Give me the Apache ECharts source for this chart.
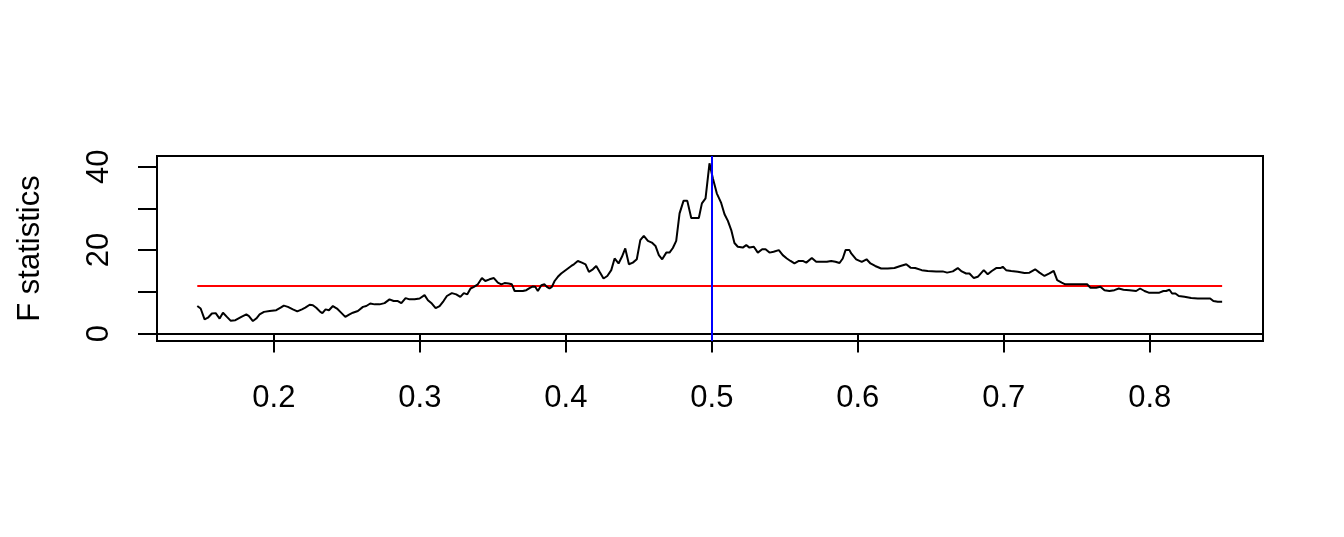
<!DOCTYPE html>
<html>
<head>
<meta charset="utf-8">
<script src="https://cdn.jsdelivr.net/npm/echarts@6/dist/echarts.min.js"></script>
<style>
html,body{margin:0;padding:0;background:#fff;}
#chart{width:1344px;height:537px;}
</style>
</head>
<body>
<div id="chart"></div>
<script>
// break fraction (x positions of the F statistics)
const breakFrac = [
0.1475,0.1498,0.1525,0.1548,0.1575,0.1601,0.1628,0.1651,0.1678,0.1703,0.1736,0.1777,0.1811,0.1829,0.1856,0.1879,0.1902,0.1932,0.1971,
0.2016,0.2046,0.2068,0.2096,0.2130,0.2160,0.2192,0.2215,0.2245,0.2267,0.2290,0.2318,0.2332,0.2354,0.2377,0.2404,0.2432,0.2455,0.2489,
0.2518,0.2541,0.2575,0.2610,0.2633,0.2660,0.2690,0.2724,0.2758,0.2792,0.2820,0.2849,0.2873,0.2902,0.2929,0.2964,0.2998,
0.3032,0.3055,0.3082,0.3108,0.3135,0.3162,0.3185,0.3219,0.3249,0.3277,0.3301,0.3325,0.3347,0.3370,0.3397,0.3425,0.3448,0.3477,
0.3507,0.3534,0.3558,0.3580,0.3608,0.3630,0.3649,0.3676,0.3705,0.3729,0.3751,0.3774,0.3790,0.3808,0.3832,0.3854,0.3870,0.3888,
0.3904,0.3923,0.3945,0.3968,0.3991,0.4014,0.4037,0.4055,0.4082,0.4110,0.4135,0.4158,0.4185,0.4208,0.4231,0.4258,0.4284,0.4311,
0.4334,0.4361,0.4384,0.4407,0.4432,0.4459,0.4486,0.4510,0.4534,0.4562,0.4589,0.4614,0.4637,0.4660,0.4688,0.4710,0.4733,0.4756,
0.4779,0.4806,0.4832,0.4859,0.4888,0.4911,0.4932,0.4957,0.4984,0.5007,0.5034,0.5064,0.5087,0.5110,0.5133,0.5155,0.5178,0.5212,
0.5236,0.5258,0.5288,0.5315,0.5345,0.5368,0.5395,0.5423,0.5459,0.5486,0.5514,0.5539,0.5566,0.5596,0.5623,0.5647,0.5685,0.5715,
0.5749,0.5788,0.5818,0.5847,0.5875,0.5897,0.5916,0.5943,0.5955,0.5989,0.6027,0.6060,0.6087,0.6119,0.6160,0.6205,0.6251,0.6292,
0.6332,0.6361,0.6393,0.6438,0.6479,0.6537,0.6582,0.6612,0.6651,0.6685,0.6712,0.6742,0.6765,0.6795,0.6822,0.6863,0.6890,0.6918,
0.6948,0.6977,0.6993,0.7016,0.7051,0.7096,0.7142,0.7176,0.7215,0.7245,0.7279,0.7313,0.7342,0.7366,0.7397,0.7421,0.7462,0.7507,
0.7548,0.7571,0.7594,0.7633,0.7662,0.7690,0.7724,0.7758,0.7788,0.7820,0.7861,0.7907,0.7934,0.7964,0.7993,0.8032,0.8066,0.8094,
0.8112,0.8135,0.8153,0.8176,0.8199,0.8238,0.8284,0.8329,0.8375,0.8414,0.8436,0.8466,0.8496
];
// F statistics
const fStats = [
6.6,6.0,3.4,3.8,4.8,4.9,3.6,5.0,4.0,3.1,3.2,4.0,4.6,4.2,3.0,3.6,4.6,5.2,5.4,
5.6,6.2,6.7,6.4,5.8,5.3,5.8,6.2,6.9,6.8,6.2,5.2,4.9,5.8,5.6,6.6,6.0,5.2,4.0,
4.6,5.0,5.4,6.4,6.6,7.2,7.0,7.0,7.3,8.2,7.8,7.8,7.3,8.5,8.2,8.2,8.4,
9.2,8.0,7.2,6.1,6.6,7.8,9.0,9.7,9.4,8.8,9.7,9.4,10.8,11.2,11.8,13.3,12.6,13.0,
13.3,12.2,11.8,12.1,12.0,11.8,10.2,10.2,10.2,10.4,10.9,11.3,11.2,10.2,11.6,11.8,11.2,10.8,
11.2,12.6,13.6,14.4,15.0,15.6,16.2,16.6,17.4,17.0,16.6,14.8,15.4,16.2,14.8,13.2,13.8,15.2,
18.0,16.8,18.4,20.4,16.6,17.0,17.8,22.4,23.4,22.2,21.8,21.0,18.8,17.8,19.4,19.4,20.5,22.2,
28.8,31.8,31.8,27.7,27.7,27.7,31.2,32.4,40.8,37.2,33.6,31.3,28.6,27.0,24.8,21.7,20.8,20.6,
21.2,20.6,20.8,19.4,20.2,20.2,19.4,19.6,20.0,18.8,18.0,17.4,16.8,17.4,17.4,17.0,18.1,17.2,
17.2,17.2,17.4,17.2,16.9,18.0,20.0,20.0,19.2,17.8,17.2,17.8,16.8,16.2,15.6,15.6,15.7,16.2,
16.6,15.8,15.7,15.2,15.0,14.9,14.9,14.6,14.9,15.7,14.9,14.4,14.4,13.3,13.6,15.2,14.2,15.0,
15.7,15.7,16.0,15.2,15.0,14.8,14.5,14.6,15.4,14.6,13.8,14.4,15.0,12.8,12.2,11.8,11.8,11.8,
11.8,11.8,11.0,11.0,11.2,10.4,10.2,10.4,10.8,10.5,10.4,10.2,10.8,10.2,9.8,9.8,9.8,10.2,
10.2,10.5,9.6,9.6,9.0,8.8,8.5,8.4,8.4,8.4,7.8,7.6,7.6
];
const boundaryValue = 11.4;   // critical value (red line)
const breakPoint = 0.5;       // estimated breakpoint (blue line)
const xTicks = [0.2, 0.3, 0.4, 0.5, 0.6, 0.7, 0.8];
const yTicks = [0, 10, 20, 30, 40];
const yLabels = [0, 20, 40];

const chart = echarts.init(document.getElementById('chart'), null, {renderer: 'canvas'});
const font = 'Liberation Sans, Arial, Helvetica, sans-serif';
const lineData = breakFrac.map((x, i) => [x, fStats[i]]);
const bData = [[breakFrac[0], boundaryValue], [breakFrac[breakFrac.length - 1], boundaryValue]];

chart.setOption({
  animation: false,
  backgroundColor: '#ffffff',
  grid: {
    left: 157, top: 156, width: 1106, height: 185,
    show: true, borderColor: '#000', borderWidth: 2, backgroundColor: 'transparent'
  },
  xAxis: {
    type: 'value', min: 0.1199, max: 0.8776,
    axisLine: {show: false},
    axisTick: {show: true, customValues: xTicks, length: 19, lineStyle: {color: '#000', width: 2}},
    axisLabel: {customValues: xTicks, margin: 42, color: '#000', fontSize: 31, fontFamily: font,
      formatter: v => String(Math.round(v * 10) / 10)},
    splitLine: {show: false}
  },
  yAxis: {
    type: 'value', min: -1.78, max: 42.55,
    name: 'F statistics', nameLocation: 'middle', nameGap: 111, nameRotate: 90,
    nameTextStyle: {color: '#000', fontSize: 31, fontFamily: font},
    axisLine: {show: false},
    axisTick: {show: true, customValues: yTicks, length: 19, lineStyle: {color: '#000', width: 2}},
    axisLabel: {customValues: yLabels, rotate: 90, margin: 42, color: '#000', fontSize: 31, fontFamily: font},
    splitLine: {show: false}
  },
  series: [
    {
      type: 'line', data: lineData, showSymbol: false, symbol: 'none',
      lineStyle: {color: '#000', width: 2}, z: 3,
      markLine: {
        silent: true, symbol: 'none', label: {show: false},
        data: [
          {yAxis: 0, lineStyle: {color: '#000', width: 2, type: 'solid'}},
          {xAxis: breakPoint, lineStyle: {color: '#0000ff', width: 2, type: 'solid'}}
        ]
      }
    },
    {
      type: 'line', data: bData, showSymbol: false, symbol: 'none',
      lineStyle: {color: '#ff0000', width: 2}, z: 2
    }
  ]
});
</script>
</body>
</html>
